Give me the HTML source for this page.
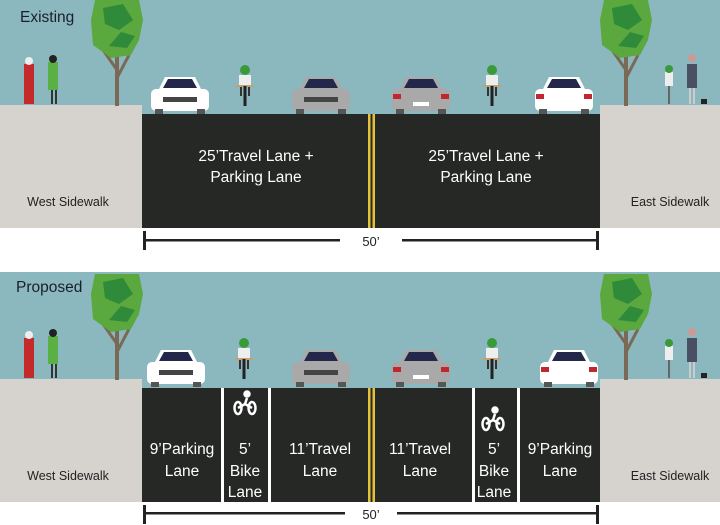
<!DOCTYPE html>
<html><head><meta charset="utf-8"><style>
html,body{margin:0;padding:0;background:#fff}
svg{display:block}
text{font-family:"Liberation Sans",sans-serif}
</style></head><body>
<svg width="720" height="525" viewBox="0 0 720 525" xmlns="http://www.w3.org/2000/svg">
<defs>
<g id="tree">
 <rect x="-2" y="40" width="4" height="66" fill="#7a6a55"/>
 <path d="M0 70 L-14 50 M0 78 L12 55" stroke="#7a6a55" stroke-width="3"/>
 <path d="M-22 0 L22 0 L26 20 L22 40 L14 55 L-6 58 L-24 45 L-26 20 Z" fill="#5aa83e"/>
 <path d="M-14 8 L6 4 L16 20 L2 30 L-12 24 Z M4 32 L18 36 L10 48 L-8 46 Z" fill="#2f8a3a"/>
</g>
<g id="carF">
 <rect x="0" y="14" width="58" height="22" rx="5"/>
 <path d="M8 14 L14 2 L44 2 L50 14 Z"/>
 <path d="M12 13 L17 4 L41 4 L46 13 Z" fill="#23284a"/>
 <rect x="12" y="22" width="34" height="5" fill="#444"/>
 <rect x="4" y="34" width="8" height="5" fill="#555"/>
 <rect x="46" y="34" width="8" height="5" fill="#555"/>
</g>
<g id="carR">
 <rect x="0" y="14" width="58" height="22" rx="5"/>
 <path d="M8 14 L14 2 L44 2 L50 14 Z"/>
 <path d="M12 13 L17 4 L41 4 L46 13 Z" fill="#23284a"/>
 <rect x="1" y="19" width="8" height="5" fill="#c0282e"/>
 <rect x="49" y="19" width="8" height="5" fill="#c0282e"/>
 <rect x="21" y="27" width="16" height="4" fill="#fff"/>
 <rect x="4" y="34" width="8" height="5" fill="#555"/>
 <rect x="46" y="34" width="8" height="5" fill="#555"/>
</g>
<g id="bike">
 <circle cx="0" cy="4" r="5" fill="#3a9a3a"/>
 <rect x="-6" y="9" width="12" height="12" fill="#eee"/>
 <rect x="-9" y="19" width="18" height="2" fill="#c8a070"/>
 <rect x="-1.5" y="20" width="3" height="20" fill="#222"/>
 <rect x="-5" y="21" width="2" height="9" fill="#333"/>
 <rect x="3" y="21" width="2" height="9" fill="#333"/>
</g>
<g id="sym" fill="none" stroke="#fff" stroke-width="2.5">
 <ellipse cx="-7" cy="0" rx="3.5" ry="6"/>
 <ellipse cx="7" cy="0" rx="3.5" ry="6"/>
 <path d="M-7 0 L0 -4 L7 0 M0 -4 L2 -10"/>
 <circle cx="2" cy="-14" r="2.5" fill="#fff"/>
</g>
<g id="panel">
 <rect x="0" y="0" width="720" height="114" fill="#8bb8bf"/>
 <rect x="0" y="105" width="142" height="123" fill="#d6d3ce"/>
 <rect x="600" y="105" width="120" height="123" fill="#d6d3ce"/>
 <rect x="142" y="114" width="458" height="114" fill="#262826"/>
 <rect x="368" y="114" width="2.5" height="114" fill="#e4c23a"/>
 <rect x="372.5" y="114" width="2.5" height="114" fill="#e4c23a"/>
 <use href="#tree" x="117" y="0"/>
 <use href="#tree" x="626" y="0"/>
 <rect x="24" y="64" width="10" height="40" fill="#c42a2a"/><circle cx="29" cy="61" r="4" fill="#eee"/>
 <rect x="48" y="62" width="10" height="28" fill="#5bb045"/><circle cx="53" cy="59" r="4" fill="#222"/>
 <rect x="51" y="90" width="2" height="14" fill="#333"/><rect x="55" y="90" width="2" height="14" fill="#333"/>
 <rect x="665" y="72" width="8" height="14" fill="#eee"/><circle cx="669" cy="69" r="4" fill="#3a9a3a"/>
 <rect x="668" y="86" width="2" height="18" fill="#666"/>
 <rect x="687" y="64" width="10" height="24" fill="#4a4f66"/><circle cx="692" cy="58" r="4" fill="#c99"/>
 <rect x="689" y="88" width="2" height="16" fill="#ccc"/><rect x="693" y="88" width="2" height="16" fill="#ccc"/>
 <rect x="701" y="99" width="6" height="5" fill="#222"/>
 <text x="68" y="206" font-size="12.5" fill="#222" text-anchor="middle">West Sidewalk</text>
 <text x="670" y="206" font-size="12.5" fill="#222" text-anchor="middle">East Sidewalk</text>
</g>
</defs>

<!-- Proposed panel first (background), then white gap, then existing -->
<use href="#panel" y="274"/>
<rect x="0" y="272" width="720" height="2" fill="#8bb8bf"/>
<rect x="0" y="228" width="720" height="44" fill="#fff"/>
<rect x="0" y="502" width="720" height="23" fill="#fff"/>

<!-- Existing -->
<use href="#panel"/>
<text x="20" y="22" font-size="15.5" fill="#1a1f2a">Existing</text>
<use href="#carF" x="151" y="75" fill="#fff"/>
<use href="#carF" x="292" y="75" fill="#a9a9a9"/>
<use href="#carR" x="392" y="75" fill="#a9a9a9"/>
<use href="#carR" x="535" y="75" fill="#fff"/>
<use href="#bike" x="245" y="66"/>
<use href="#bike" x="492" y="66"/>
<text font-size="15.5" fill="#fff" text-anchor="middle"><tspan x="256" y="161">25’Travel Lane +</tspan><tspan x="256" y="182">Parking Lane</tspan></text>
<text font-size="15.5" fill="#fff" text-anchor="middle"><tspan x="486" y="161">25’Travel Lane +</tspan><tspan x="486" y="182">Parking Lane</tspan></text>
<rect x="143" y="231" width="3" height="19" fill="#222"/>
<rect x="596" y="231" width="3" height="19" fill="#222"/>
<rect x="145" y="239" width="195" height="2.5" fill="#222"/>
<rect x="402" y="239" width="195" height="2.5" fill="#222"/>
<text x="371" y="246" font-size="13" fill="#222" text-anchor="middle">50’</text>

<!-- Proposed overlays -->
<text x="16" y="292" font-size="15.5" fill="#1a1f2a">Proposed</text>
<rect x="221" y="388" width="3" height="115" fill="#fff"/>
<rect x="268" y="388" width="3" height="115" fill="#fff"/>
<rect x="472" y="388" width="3" height="115" fill="#fff"/>
<rect x="517" y="388" width="3" height="115" fill="#fff"/>
<use href="#carF" x="147" y="348" fill="#fff"/>
<use href="#carF" x="292" y="348" fill="#a9a9a9"/>
<use href="#carR" x="392" y="348" fill="#a9a9a9"/>
<use href="#carR" x="540" y="348" fill="#fff"/>
<use href="#bike" x="244" y="339"/>
<use href="#bike" x="492" y="339"/>
<use href="#sym" x="245" y="408"/>
<use href="#sym" x="493" y="424"/>
<text font-size="15.5" fill="#fff" text-anchor="middle"><tspan x="182" y="454">9’Parking</tspan><tspan x="182" y="476">Lane</tspan></text>
<text font-size="15.5" fill="#fff" text-anchor="middle"><tspan x="245" y="454">5’</tspan><tspan x="245" y="476">Bike</tspan><tspan x="245" y="497">Lane</tspan></text>
<text font-size="15.5" fill="#fff" text-anchor="middle"><tspan x="320" y="454">11’Travel</tspan><tspan x="320" y="476">Lane</tspan></text>
<text font-size="15.5" fill="#fff" text-anchor="middle"><tspan x="420" y="454">11’Travel</tspan><tspan x="420" y="476">Lane</tspan></text>
<text font-size="15.5" fill="#fff" text-anchor="middle"><tspan x="494" y="454">5’</tspan><tspan x="494" y="476">Bike</tspan><tspan x="494" y="497">Lane</tspan></text>
<text font-size="15.5" fill="#fff" text-anchor="middle"><tspan x="560" y="454">9’Parking</tspan><tspan x="560" y="476">Lane</tspan></text>
<rect x="143" y="505" width="3" height="19" fill="#222"/>
<rect x="596" y="505" width="3" height="19" fill="#222"/>
<rect x="145" y="512" width="200" height="2.5" fill="#222"/>
<rect x="397" y="512" width="200" height="2.5" fill="#222"/>
<text x="371" y="519" font-size="13" fill="#222" text-anchor="middle">50’</text>
</svg>
</body></html>
